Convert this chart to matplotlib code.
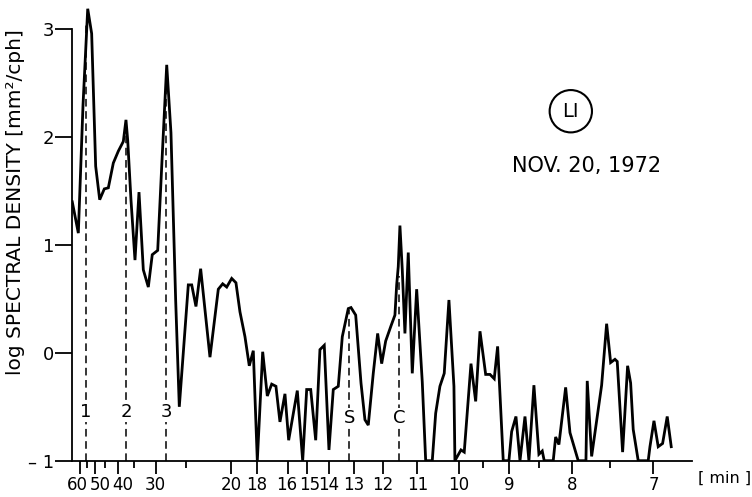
import numpy as np
import matplotlib
matplotlib.use("Agg")
import matplotlib.pyplot as plt
from matplotlib.transforms import ScaledTranslation

# spectrum: frequency (cph) vs log spectral density
freq_cph = [0.898, 0.978, 1.040, 1.102, 1.154, 1.207, 1.260, 1.321, 1.374, 1.440,
            1.506, 1.572, 1.607, 1.630, 1.673, 1.726, 1.779, 1.836, 1.902, 1.954,
            2.026, 2.079, 2.145, 2.201, 2.263, 2.311, 2.430, 2.475, 2.531, 2.593,
            2.716, 2.826, 2.884, 2.937, 3.003, 3.059, 3.112, 3.178, 3.235, 3.288,
            3.341, 3.412, 3.473, 3.531, 3.587, 3.640, 3.706, 3.755, 3.869, 3.940,
            3.993, 4.046, 4.112, 4.168, 4.225, 4.287, 4.344, 4.410, 4.463, 4.542,
            4.578, 4.640, 4.710, 4.762, 4.806, 4.872, 4.930, 4.983, 5.036, 5.106,
            5.158, 5.181, 5.202, 5.224, 5.255, 5.290, 5.334, 5.387, 5.445, 5.519,
            5.564, 5.651, 5.696, 5.752, 5.809, 5.871, 5.937, 5.950, 6.030, 6.073,
            6.162, 6.224, 6.281, 6.356, 6.413, 6.469, 6.514, 6.588, 6.663, 6.699,
            6.756, 6.809, 6.875, 6.927, 6.993, 7.059, 7.103, 7.129, 7.248, 7.280,
            7.323, 7.412, 7.469, 7.544, 7.578, 7.680, 7.697, 7.755, 7.887, 7.953,
            8.006, 8.063, 8.093, 8.164, 8.230, 8.270, 8.304, 8.370, 8.502, 8.525,
            8.578, 8.634, 8.692, 8.753, 8.806]
log_density = [1.40, 1.11, 2.30, 3.19, 2.96, 1.73, 1.42, 1.52, 1.53, 1.76,
               1.87, 1.96, 2.16, 1.97, 1.42, 0.86, 1.49, 0.77, 0.61, 0.91,
               0.95, 1.73, 2.67, 2.04, 0.49, -0.50, 0.63, 0.63, 0.43, 0.78,
               -0.04, 0.59, 0.64, 0.61, 0.69, 0.65, 0.38, 0.15, -0.12, 0.02,
               -1.0, 0.01, -0.40, -0.29, -0.31, -0.64, -0.38, -0.81, -0.35, -1.0,
               -0.34, -0.34, -0.81, 0.03, 0.07, -0.90, -0.34, -0.31, 0.15, 0.41,
               0.42, 0.35, -0.28, -0.62, -0.67, -0.19, 0.18, -0.10, 0.11, 0.25,
               0.35, 0.63, 0.80, 1.18, 0.77, 0.18, 0.93, -0.19, 0.59, -0.27,
               -1.0, -1.0, -0.56, -0.31, -0.19, 0.49, -0.31, -1.0, -0.90, -0.92,
               -0.10, -0.45, 0.20, -0.20, -0.20, -0.24, 0.06, -1.0, -1.0, -0.73,
               -0.59, -1.0, -0.59, -1.0, -0.30, -0.94, -0.91, -1.0, -1.0, -0.78,
               -0.85, -0.32, -0.74, -0.92, -1.0, -1.0, -0.26, -0.96, -0.30, 0.27,
               -0.09, -0.06, -0.08, -0.92, -0.12, -0.28, -0.71, -1.0, -1.0, -0.87,
               -0.63, -0.87, -0.84, -0.59, -0.87]

# marked peaks
marker_freq = [1.079, 1.607, 2.135, 4.555, 5.215]
marker_top = [3.05, 2.07, 2.54, 0.40, 0.71]
marker_text = ["1", "2", "3", "S", "C"]
marker_y = [-0.55, -0.55, -0.55, -0.60, -0.60]

# period axis (minutes)
period_major = [60, 50, 40, 30, 20, 18, 16, 15, 14, 13, 12, 11, 10, 9, 8, 7]
period_minor = [55, 45, 35, 25, 9.5, 8.5, 7.5]

plt.rcParams["font.family"] = ["DejaVu Sans"]

fig = plt.figure(figsize=(7.52, 4.97), dpi=100)
ax = fig.add_axes([0.0957, 0.0730, 0.8245, 0.9224])

ax.plot(freq_cph, log_density, color="black", lw=2.0, solid_joinstyle="miter")
ax.vlines(marker_freq, -1, marker_top, colors="black", linestyles=(0, (5, 3)), lw=1.1)
for f, yy, t in zip(marker_freq, marker_y, marker_text):
    ax.text(f, yy, t, ha="center", va="center", fontsize=13,
            bbox=dict(fc="white", ec="none", pad=0.5))

ax.set_xlim(0.894, 9.08)
ax.set_ylim(-1, 3.25)
ax.spines[["top", "right"]].set_visible(False)
ax.spines["left"].set_bounds(-1, 3)
ax.spines[["left", "bottom"]].set_linewidth(1.3)

ax.set_xticks([60 / p for p in period_major])
ax.set_xticklabels([str(p) for p in period_major], fontsize=12)
ax.set_xticks([60 / p for p in period_minor], minor=True)
ax.tick_params(axis="x", which="major", length=9, width=1.3, pad=2)
ax.tick_params(axis="x", which="minor", length=5, width=1.3)
ax.set_yticks([-1, 0, 1, 2, 3])
ax.set_yticklabels(["\u2013 1", "0", "1", "2", "3"], fontsize=13)
ax.tick_params(axis="y", length=12, width=1.3, pad=1)

# nudge crowded labels like the original
xlabs = ax.get_xticklabels()
shifts = {0: -0.03, 1: 0.05, 2: 0.05, 6: -0.02, 7: 0.02}
for i, dx in shifts.items():
    xlabs[i].set_transform(xlabs[i].get_transform() + ScaledTranslation(dx, 0, fig.dpi_scale_trans))

fig.text(0.02, 0.594, "log SPECTRAL DENSITY [mm\u00b2/cph]", rotation=90,
         ha="center", va="center", fontsize=14.5)
fig.text(0.963, 0.038, "[ min ]", ha="center", va="center", fontsize=11.5)

ax.text(7.48, 2.24, "LI", ha="center", va="center", fontsize=14,
        bbox=dict(boxstyle="circle,pad=0.6", fc="white", ec="black", lw=1.5))
ax.text(7.69, 1.73, "NOV. 20, 1972", ha="center", va="center", fontsize=15)

fig.savefig("out.png", dpi=100)
